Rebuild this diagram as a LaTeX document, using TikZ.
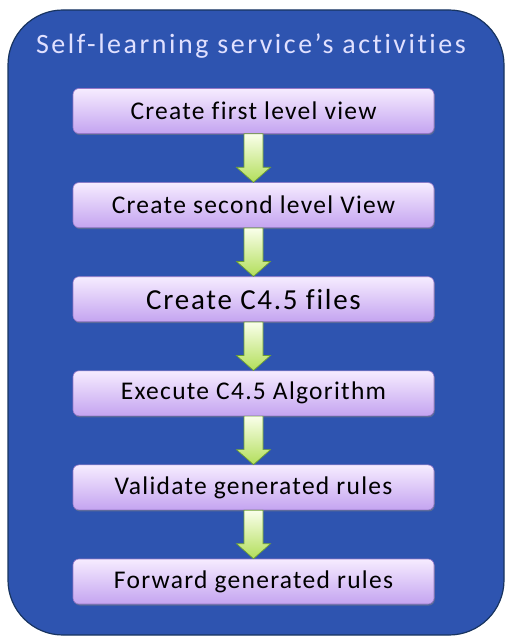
\documentclass[tikz,border=0pt]{standalone}
\usepackage{fontspec}
\setmainfont{Carlito}[Ligatures=NoCommon]
\newfontfamily\stepfont{Carlito}[LetterSpace=5, Ligatures=NoCommon]
\newfontfamily\bigstepfont{Carlito}[LetterSpace=6, Ligatures=NoCommon]
\newfontfamily\titlefont{Carlito}[LetterSpace=9, Ligatures=NoCommon]
\usetikzlibrary{positioning, calc, shadows}
\definecolor{panelblue}{RGB}{46,84,176}
\definecolor{paneledge}{RGB}{24,52,96}
\definecolor{boxtop}{RGB}{246,236,255}
\definecolor{boxbot}{RGB}{196,164,240}
\definecolor{boxedge}{RGB}{150,120,200}
\definecolor{arrowtop}{RGB}{250,255,235}
\definecolor{arrowbot}{RGB}{178,222,90}
\definecolor{arrowedge}{RGB}{110,160,50}
\tikzset{
    panel/.style = {draw=paneledge, line width=1.2pt, fill=panelblue, rounded corners=55pt},
    stepbox/.style = {draw=boxedge, line width=0.6pt, rounded corners=6pt,
        top color=boxtop, bottom color=boxbot, minimum width=361pt, minimum height=45pt,
        inner sep=0pt, font=\stepfont\fontsize{25.5}{28}\selectfont,
        drop shadow={shadow xshift=0.8pt, shadow yshift=-1.5pt, opacity=0.5}},
    flowarrow/.style = {draw=arrowedge, line width=0.7pt, top color=arrowtop, bottom color=arrowbot}
}
% block arrow from the bottom of #1 to the top of #2
\newcommand{\flow}[2]{
    \draw[flowarrow] ($(#1.south)+(-9.5,0)$) -- ($(#1.south)+(9.5,0)$)
        -- ($(#2.north)+(9.5,15)$) -- ($(#2.north)+(17,15)$) -- (#2.north)
        -- ($(#2.north)+(-17,15)$) -- ($(#2.north)+(-9.5,15)$) -- cycle;
}
\begin{document}
\begin{tikzpicture}[x=1pt, y=1pt]
    \useasboundingbox (0,0) rectangle (507,-639);
    \draw[panel] (8,-10) rectangle (504,-635);
    \node[text=white!88!blue, font=\titlefont\fontsize{28}{32}\selectfont] (title) at (251,-46) {Self-learning service’s activities};
    \node[stepbox] (s1) at (253.5,-111) {Create first level view};
    \node[stepbox, below=48.5pt of s1] (s2) {Create second level View};
    \node[stepbox, below=48.5pt of s2, font=\bigstepfont\fontsize{29}{32}\selectfont] (s3) {Create C4.5 files};
    \node[stepbox, below=48.5pt of s3] (s4) {Execute C4.5 Algorithm};
    \node[stepbox, below=48.5pt of s4] (s5) {Validate generated rules};
    \node[stepbox, below=48.5pt of s5] (s6) {Forward generated rules};
    \flow{s1}{s2}
    \flow{s2}{s3}
    \flow{s3}{s4}
    \flow{s4}{s5}
    \flow{s5}{s6}
\end{tikzpicture}
\end{document}
